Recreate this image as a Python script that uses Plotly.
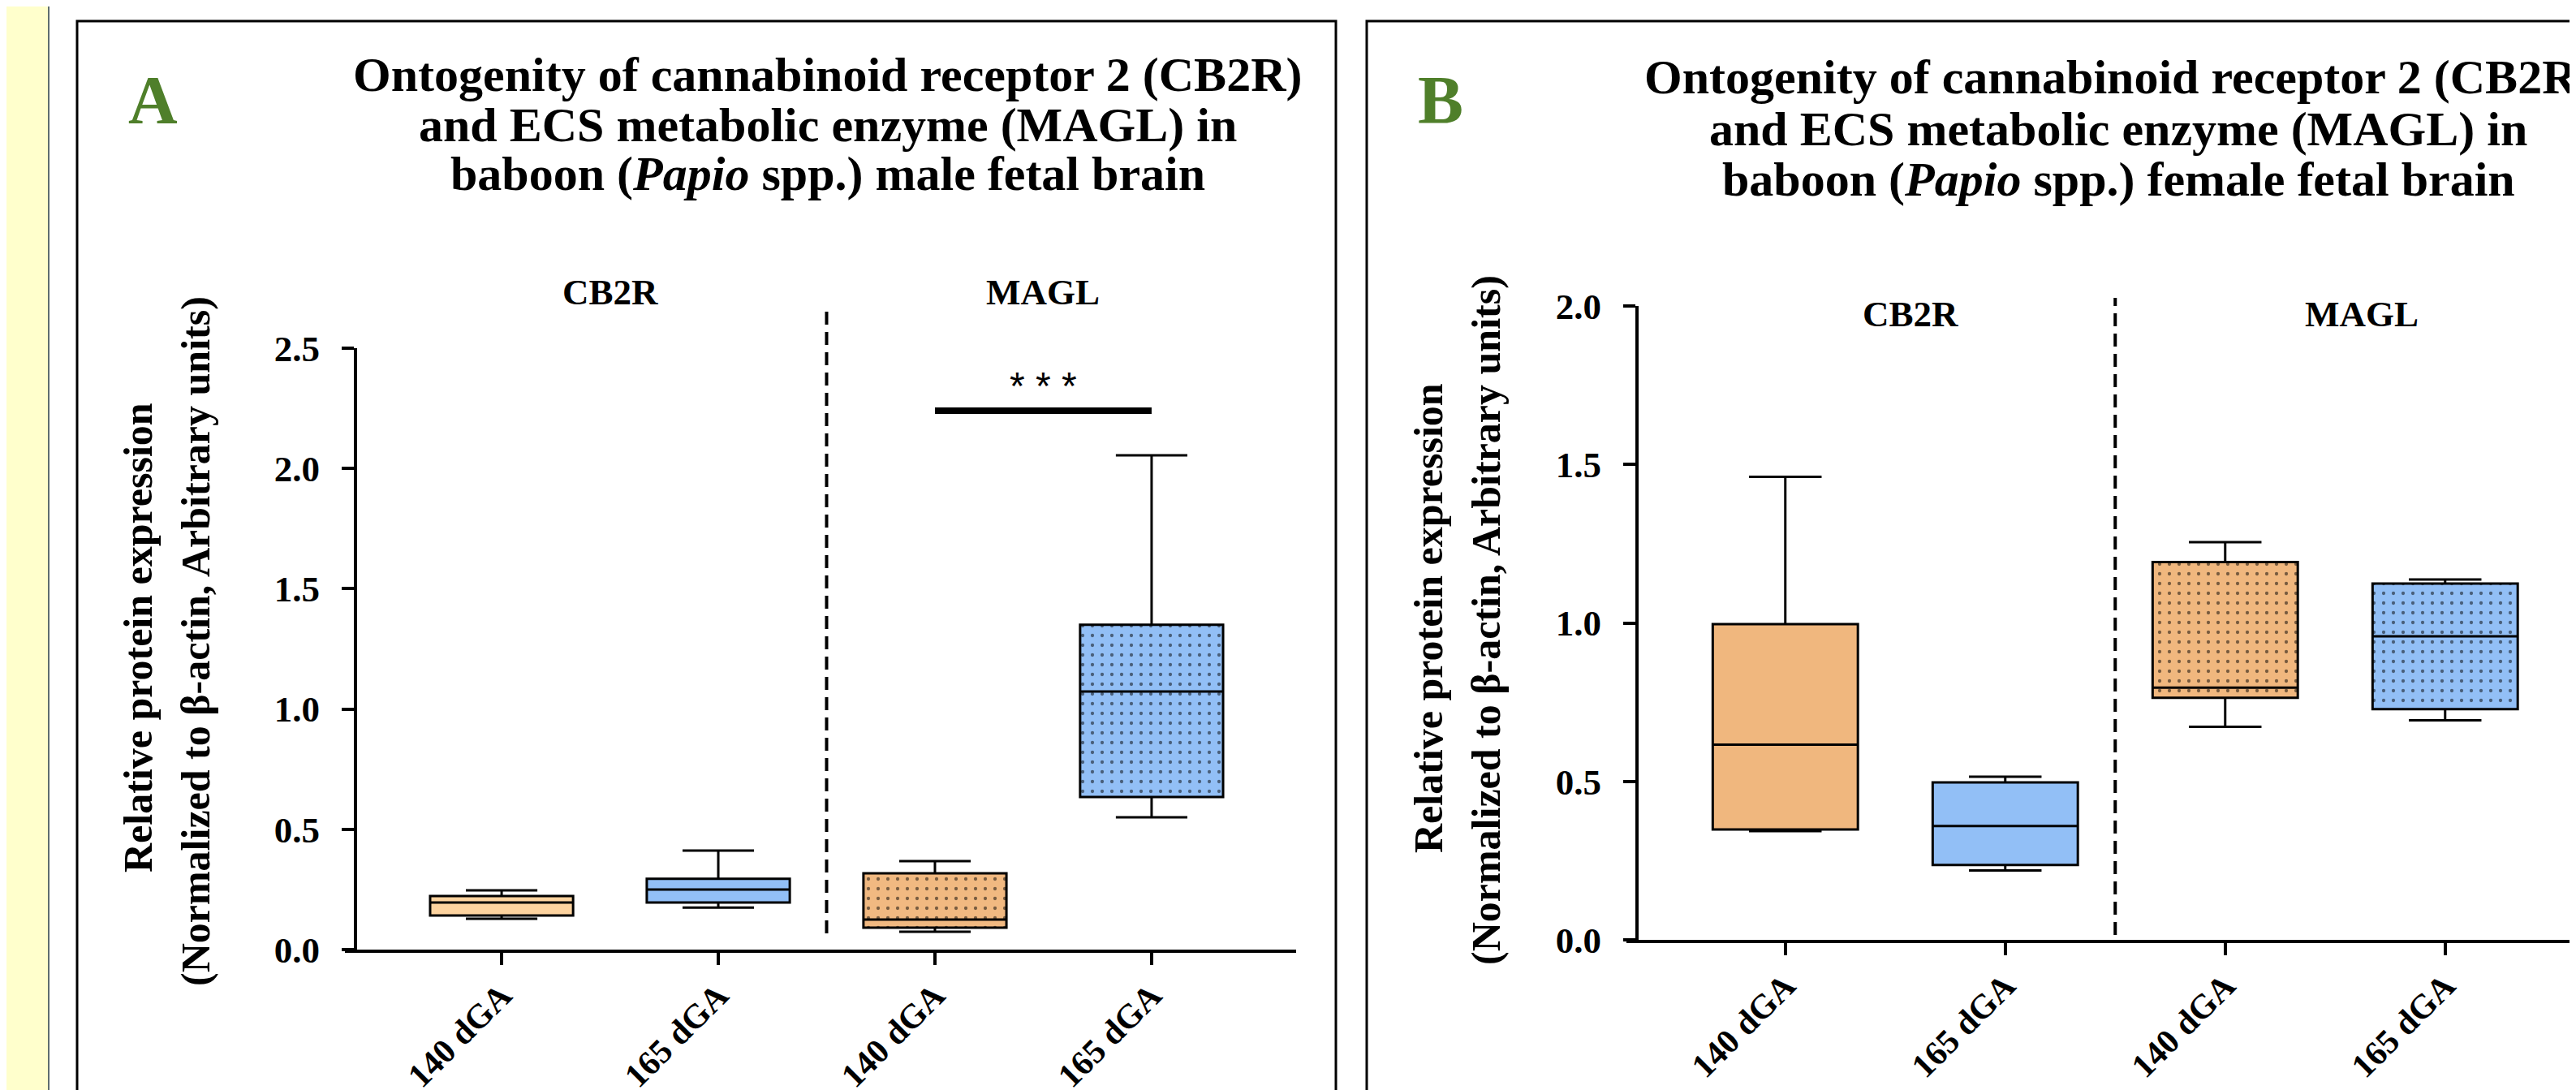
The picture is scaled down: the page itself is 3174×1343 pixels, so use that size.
import plotly.graph_objects as go

W, H = 3174, 1343
PAGE_OFFSET = 8  # default body margin of the html page

# ---------------- data ----------------
categories = ["140 dGA", "165 dGA", "140 dGA", "165 dGA"]
groups = ["CB2R", "MAGL"]
y_ticks_male = [0.0, 0.5, 1.0, 1.5, 2.0, 2.5]
y_ticks_female = [0.0, 0.5, 1.0, 1.5, 2.0]

male_lower = [0.128, 0.175, 0.074, 0.550]
male_q1 = [0.142, 0.196, 0.091, 0.634]
male_median = [0.196, 0.250, 0.125, 1.073]
male_q3 = [0.223, 0.294, 0.317, 1.350]
male_upper = [0.246, 0.412, 0.368, 2.055]

female_lower = [0.343, 0.219, 0.672, 0.693]
female_q1 = [0.348, 0.236, 0.764, 0.728]
female_median = [0.616, 0.359, 0.796, 0.958]
female_q3 = [0.996, 0.497, 1.192, 1.124]
female_upper = [1.461, 0.515, 1.255, 1.137]

male_colors = ["#FDD39F", "#92BFF6", "#F1B981", "#92BFF6"]
female_colors = ["#F0B77E", "#92BFF6", "#F0B77E", "#92BFF6"]
dotted = [False, False, True, True]

sig_pair = (2, 3)
sig_level = 2.24
sig_text = "* * *"

SERIF = "Liberation Serif, Times New Roman, serif"


def px_x(p):
    return (p - PAGE_OFFSET) / W


def px_y(p):
    return 1 - (p - PAGE_OFFSET) / H


fig = go.Figure()


def add_panel(xa, ya, q1, med, q3, lo, hi, colors):
    for i in range(len(categories)):
        fig.add_trace(go.Bar(
            x=[i], y=[q3[i] - q1[i]], base=[q1[i]], width=0.66,
            marker=dict(
                color=colors[i], line=dict(width=0),
                pattern=dict(shape="." if dotted[i] else "", fgcolor="black",
                             size=12, solidity=0.1, fillmode="overlay"),
            ),
            xaxis=xa, yaxis=ya, showlegend=False, hoverinfo="skip",
        ))
        fig.add_trace(go.Box(
            x=[i], q1=[q1[i]], median=[med[i]], q3=[q3[i]],
            lowerfence=[lo[i]], upperfence=[hi[i]],
            width=0.66, whiskerwidth=0.5,
            fillcolor="rgba(0,0,0,0)", line=dict(color="black", width=3),
            boxpoints=False, xaxis=xa, yaxis=ya, showlegend=False,
        ))


add_panel("x", "y", male_q1, male_median, male_q3, male_lower, male_upper, male_colors)
add_panel("x2", "y2", female_q1, female_median, female_q3, female_lower, female_upper, female_colors)

axis_common = dict(
    showline=True, linewidth=4, linecolor="black", ticks="outside",
    ticklen=15, tickwidth=4, tickcolor="black", showgrid=False, zeroline=False,
    automargin=False,
)
xfont = dict(family=SERIF, size=42, color="black", weight="bold")
yfont = dict(family=SERIF, size=45, color="black", weight="bold")

x2_left = 2019
fig.update_layout(
    width=W, height=H,
    margin=dict(l=0, r=0, t=0, b=0, pad=0, autoexpand=False),
    paper_bgcolor="white", plot_bgcolor="white",
    barmode="overlay", boxmode="overlay", showlegend=False,
    xaxis=dict(domain=[px_x(440), px_x(1597)], range=[-0.667, 3.667],
               tickvals=list(range(len(categories))), ticktext=categories,
               tickangle=-45, tickfont=xfont, ticklabelstandoff=-4, anchor="y", **axis_common),
    yaxis=dict(domain=[px_y(1170), px_y(429)], range=[0, 2.5],
               tickvals=y_ticks_male, ticktext=[f"{v:.1f}" for v in y_ticks_male],
               tickfont=yfont, ticklabelstandoff=18, anchor="x", **axis_common),
    xaxis2=dict(domain=[px_x(x2_left), 1.0],
                range=[-0.667, -0.667 + (W + PAGE_OFFSET - x2_left) / 271],
                tickvals=list(range(len(categories))), ticktext=categories,
                tickangle=-45, tickfont=xfont, ticklabelstandoff=-4, anchor="y2", **axis_common),
    yaxis2=dict(domain=[px_y(1158), px_y(377)], range=[0, 2.0],
                tickvals=y_ticks_female, ticktext=[f"{v:.1f}" for v in y_ticks_female],
                tickfont=yfont, ticklabelstandoff=18, anchor="x2", **axis_common),
)

shapes = []
# left yellow strip
shapes.append(dict(type="rect", xref="paper", yref="paper", x0=-0.01, x1=px_x(59),
                   y0=0, y1=1.01, fillcolor="#FFFFCC", line=dict(width=0), layer="below"))
shapes.append(dict(type="line", xref="paper", yref="paper", x0=px_x(60), x1=px_x(60),
                   y0=0, y1=1.01, line=dict(color="#5E6E6E", width=2)))
# panel borders
shapes.append(dict(type="rect", xref="paper", yref="paper", x0=px_x(95), x1=px_x(1646),
                   y0=-0.05, y1=px_y(26), line=dict(color="black", width=3)))
shapes.append(dict(type="rect", xref="paper", yref="paper", x0=px_x(1684), x1=1.05,
                   y0=-0.05, y1=px_y(26), line=dict(color="black", width=3)))
# x-axis extensions to the left (GraphPad style)
shapes.append(dict(type="line", xref="paper", yref="paper", x0=px_x(425), x1=px_x(440),
                   y0=px_y(1172), y1=px_y(1172), line=dict(color="black", width=4)))
shapes.append(dict(type="line", xref="paper", yref="paper", x0=px_x(2004), x1=px_x(2019),
                   y0=px_y(1160), y1=px_y(1160), line=dict(color="black", width=4)))
# dashed separators between groups
shapes.append(dict(type="line", xref="x", yref="paper", x0=1.5, x1=1.5,
                   y0=px_y(1150), y1=px_y(378), line=dict(color="black", width=4, dash="16px,9px")))
shapes.append(dict(type="line", xref="x2", yref="paper", x0=1.5, x1=1.5,
                   y0=px_y(1152), y1=px_y(367), line=dict(color="black", width=4, dash="16px,9px")))
# significance bar
shapes.append(dict(type="line", xref="x", yref="y", x0=sig_pair[0], x1=sig_pair[1],
                   y0=sig_level, y1=sig_level, line=dict(color="black", width=8)))
fig.update_layout(shapes=shapes)

ann = []
title_font = dict(family=SERIF, size=60, color="black", weight="bold")
titles_A = ["Ontogenity of cannabinoid receptor 2 (CB2R)",
            "and ECS metabolic enzyme (MAGL) in",
            "baboon (<i>Papio</i> spp.) male fetal brain"]
titles_B = ["Ontogenity of cannabinoid receptor 2 (CB2R)",
            "and ECS metabolic enzyme (MAGL) in",
            "baboon (<i>Papio</i> spp.) female fetal brain"]
for t, yy in zip(titles_A, [92, 154, 214]):
    ann.append(dict(text=t, x=px_x(1020), y=px_y(yy), xref="paper", yref="paper",
                    xanchor="center", yanchor="middle", showarrow=False, font=title_font))
for t, yy in zip(titles_B, [95, 159, 221]):
    ann.append(dict(text=t, x=px_x(2610), y=px_y(yy), xref="paper", yref="paper",
                    xanchor="center", yanchor="middle", showarrow=False, font=title_font))

label_font = dict(family=SERIF, size=84, color="#4F7F2A", weight="bold")
ann.append(dict(text="A", x=px_x(188), y=px_y(124), xref="paper", yref="paper",
                xanchor="center", yanchor="middle", showarrow=False, font=label_font))
ann.append(dict(text="B", x=px_x(1775), y=px_y(124), xref="paper", yref="paper",
                xanchor="center", yanchor="middle", showarrow=False, font=label_font))

ylab_font = dict(family=SERIF, size=50, color="black", weight="bold")
for xx, yy, t in [(170, 786, "Relative protein expression"),
                  (241, 790, "(Normalized to β-actin, Arbitrary units)"),
                  (1760, 762, "Relative protein expression"),
                  (1831, 764, "(Normalized to β-actin, Arbitrary units)")]:
    ann.append(dict(text=t, x=px_x(xx), y=px_y(yy), xref="paper", yref="paper",
                    textangle=-90, xanchor="center", yanchor="middle", showarrow=False,
                    font=ylab_font))

grp_font = dict(family=SERIF, size=45, color="black", weight="bold")
for xref, xs, yy in [("x", [0.5, 2.5], 360), ("x2", [0.57, 2.62], 387)]:
    for g, xv in zip(groups, xs):
        ann.append(dict(text=g, x=xv, y=px_y(yy), xref=xref, yref="paper",
                        xanchor="center", yanchor="middle", showarrow=False, font=grp_font))

ann.append(dict(text=sig_text, x=(sig_pair[0] + sig_pair[1]) / 2, y=px_y(476),
                xref="x", yref="paper", xanchor="center", yanchor="middle",
                showarrow=False, font=dict(family="Liberation Sans, Arial", size=48, color="black")))

fig.update_layout(annotations=ann)

fig.write_html("out.html")
